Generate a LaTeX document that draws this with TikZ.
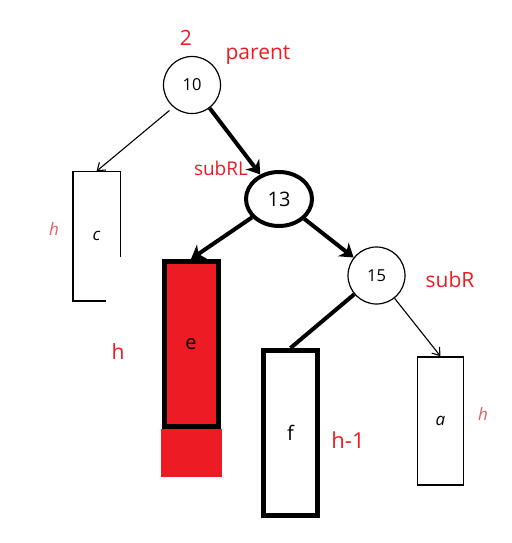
\documentclass[tikz,border=0pt]{standalone}
\usepackage{fontspec}
\setmainfont{Open Sans}
\usetikzlibrary{arrows.meta,shapes.geometric}
\definecolor{paintred}{HTML}{ED1C24}
\definecolor{softred}{HTML}{E06060}

\begin{document}
\begin{tikzpicture}[
  x=1pt, y=-1pt,
  key/.style={circle, draw, line width=1.2pt, inner sep=0pt, minimum size=57pt, font=\fontsize{16.5}{20}\selectfont},
  keybold/.style={ellipse, draw, line width=4pt, inner sep=0pt, minimum width=66pt, minimum height=54pt, font=\fontsize{20}{24}\selectfont},
  tree/.style={rectangle, draw, line width=1.5pt, inner sep=0pt, minimum width=46pt, minimum height=128pt, font=\fontsize{17}{20}\selectfont\itshape},
  treebold/.style={rectangle, draw, line width=5pt, inner sep=0pt, minimum width=54pt, minimum height=165pt, font=\fontsize{20}{24}\selectfont},
  note/.style={text=paintred, inner sep=0pt, font=\fontsize{21}{25}\selectfont},
  hnote/.style={text=softred, inner sep=0pt, font=\fontsize{17}{20}\selectfont\itshape},
  link/.style={-{Straight Barb[length=7pt,width=10pt]}, line width=1.1pt},
  boldlink/.style={-{Stealth[length=13pt,width=17pt,inset=4pt]}, line width=4pt}
]
\useasboundingbox[fill=white] (0,0) rectangle (511,543);

\node[key] (ten) at (192,85) {10};
\node[keybold] (thirteen) at (279,199) {13};
\node[key] (fifteen) at (376.5,275.5) {15};

\node[tree, draw=none] (c) at (96.5,236) {c};
\draw[line width=1.5pt] (c.south west) ++(33,0) -- (c.south west) -- (c.north west) -- (c.north east) -- ++(0,86);
\node[treebold, fill=paintred] (e) at (191,344) {e};
\node[fill=paintred, minimum width=61pt, minimum height=48pt] (ebase) at (191.5,453) {};
\node[treebold] (f) at (290.5,433) {f};
\node[tree] (a) at (440.5,421) {a};

\node[note] (two) at (186,38) {2};
\node[note] (parent) at (258,55) {parent};
\node[note, font=\fontsize{19}{23}\selectfont] (subRL) at (221,168) {subRL};
\node[note] (subR) at (450,280) {subR};
\node[note, font=\fontsize{22}{26}\selectfont] (hminus) at (348,440) {h-1};
\node[note] (he) at (118,352) {h};
\node[hnote] (hc) at (54,229) {h};
\node[hnote] (ha) at (483,414) {h};

\draw[link, shorten <=5pt] (ten.230) -- (c.north);
\draw[boldlink] (ten) -- (thirteen);
\draw[boldlink] (thirteen) -- (e.north);
\draw[boldlink] (thirteen) -- (fifteen);
\draw[line width=4pt] (fifteen) -- (f.north);
\draw[link] (fifteen) -- (a.north);
\end{tikzpicture}
\end{document}
